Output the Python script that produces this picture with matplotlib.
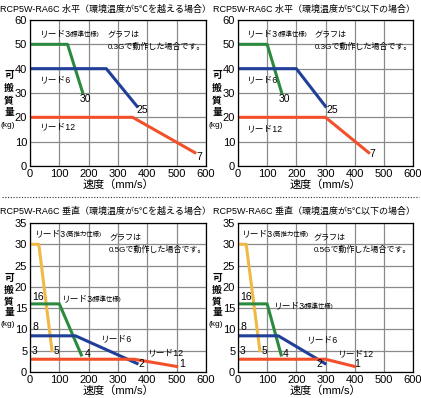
import matplotlib.pyplot as plt
from matplotlib.lines import Line2D
from matplotlib import font_manager

# prefer a narrow latin face if there is one
latin = 'Liberation Sans'
try:
    font_manager.findfont('Liberation Sans Narrow', fallback_to_default=False)
    latin = 'Liberation Sans Narrow'
except Exception:
    pass
plt.rcParams['font.family'] = [latin, 'Noto Sans CJK JP', 'DejaVu Sans']

# horizontal, above 5C
hh_l3_x = [0, 128, 180]
hh_l3_y = [50, 50, 30]
hh_l6_x = [0, 260, 365]
hh_l6_y = [40, 40, 24.5]
hh_l12_x = [0, 350, 562]
hh_l12_y = [20, 20, 5.5]
# horizontal, 5C or below
hc_l3_x = [0, 100, 150]
hc_l3_y = [50, 50, 30]
hc_l6_x = [0, 200, 300]
hc_l6_y = [40, 40, 24.5]
hc_l12_x = [0, 300, 448]
hc_l12_y = [20, 20, 5.5]
# vertical, above 5C
vh_l3h_x = [0, 30, 75]
vh_l3h_y = [30, 30, 5]
vh_l3_x = [0, 100, 175]
vh_l3_y = [16, 16, 4]
vh_l6_x = [0, 155, 365]
vh_l6_y = [8.5, 8.5, 2]
vh_l12_x = [0, 355, 500]
vh_l12_y = [3, 3, 1.3]
# vertical, 5C or below
vc_l3h_x = [0, 28, 75]
vc_l3h_y = [30, 30, 5]
vc_l3_x = [0, 100, 148]
vc_l3_y = [16, 16, 4]
vc_l6_x = [0, 138, 298]
vc_l6_y = [8.5, 8.5, 2]
vc_l12_x = [0, 300, 400]
vc_l12_y = [3, 3, 1.3]

titles = ["RCP5W-RA6C 水平（環境温度が5℃を越える場合）",
          "RCP5W-RA6C 水平（環境温度が5℃以下の場合）",
          "RCP5W-RA6C 垂直（環境温度が5℃を越える場合）",
          "RCP5W-RA6C 垂直（環境温度が5℃以下の場合）"]

GREEN = "#2b8a3e"
BLUE = "#1f3f98"
RED = "#f2502a"
YELLOW = "#f0b845"

fig = plt.figure(figsize=(4.21, 3.98), dpi=100)
W, H = 421, 398

def make_ax(left, top, w, h):
    return fig.add_axes([left / W, 1 - (top + h) / H, w / W, h / H])

axes = [make_ax(30, 20, 176, 146), make_ax(238, 20, 175, 146),
        make_ax(30, 223, 176, 149), make_ax(238, 223, 175, 149)]

title_x = [106, 314, 106, 314]
title_y = [9, 9, 211, 211]
ylab_x = [9, 217, 9, 217]
ylab_top = [75, 75, 278, 278]
ylab_step = [12.5, 12.5, 11.5, 11.5]

for i, ax in enumerate(axes):
    ax.set_xlim(0, 600)
    ax.set_xticks(range(0, 601, 100))
    if i < 2:
        ax.set_ylim(0, 60)
        ax.set_yticks(range(0, 61, 10))
    else:
        ax.set_ylim(0, 35)
        ax.set_yticks(range(0, 36, 5))
    ax.grid(True, color="#8a8a8a", lw=0.9)
    ax.set_axisbelow(True)
    ax.tick_params(length=0, pad=2, labelsize=8)
    for s in ax.spines.values():
        s.set_linewidth(0.9)
    fig.text(title_x[i] / W, 1 - title_y[i] / H, titles[i], fontsize=6.5,
             ha='center', va='center')
    ax.set_xlabel("速度（mm/s）", fontsize=8, labelpad=0)
    # stacked y label
    for k, ch in enumerate("可搬質量"):
        fig.text(ylab_x[i] / W, 1 - (ylab_top[i] + ylab_step[i] * k) / H, ch, fontsize=7,
                 fontweight='bold', ha='center', va='center')
    fig.text((ylab_x[i] - 1) / W, 1 - (ylab_top[i] + ylab_step[i] * 4 + 1) / H, "(kg)",
             fontsize=6, ha='center', va='center')

lw = 2.2

def lead_label(ax, x, y, main, sub=None):
    t = ax.text(x, y, main, fontsize=6.3, va='center', ha='left')
    if sub:
        ax.annotate(sub, xy=(1, 0.5), xycoords=t, fontsize=4.6, va='center', ha='left')

def num(ax, x, y, s):
    ax.text(x, y, s, fontsize=7.5, va='center', ha='left')

note_h = "グラフは\n0.3Gで動作した場合です。"
note_v = "グラフは\n0.5Gで動作した場合です。"
note_fs = 5.8

# top-left
ax = axes[0]
ax.plot(hh_l3_x, hh_l3_y, color=GREEN, lw=lw)
ax.plot(hh_l6_x, hh_l6_y, color=BLUE, lw=lw)
ax.plot(hh_l12_x, hh_l12_y, color=RED, lw=lw)
lead_label(ax, 30, 54.5, "リード3", "(標準仕様)")
lead_label(ax, 30, 35.3, "リード6")
lead_label(ax, 30, 16, "リード12")
num(ax, 168, 27.5, "30")
num(ax, 362, 23, "25")
num(ax, 568, 3.5, "7")
ax.text(266, 51.2, note_h, fontsize=note_fs, va='center', linespacing=1.7)

# top-right
ax = axes[1]
ax.plot(hc_l3_x, hc_l3_y, color=GREEN, lw=lw)
ax.plot(hc_l6_x, hc_l6_y, color=BLUE, lw=lw)
ax.plot(hc_l12_x, hc_l12_y, color=RED, lw=lw)
lead_label(ax, 28, 54.5, "リード3", "(標準仕様)")
lead_label(ax, 28, 35.3, "リード6")
lead_label(ax, 28, 15.5, "リード12")
num(ax, 138, 27.5, "30")
num(ax, 302, 23, "25")
num(ax, 452, 5, "7")
ax.text(262, 51.2, note_h, fontsize=note_fs, va='center', linespacing=1.7)

# bottom-left
ax = axes[2]
ax.plot(vh_l3h_x, vh_l3h_y, color=YELLOW, lw=lw)
ax.plot(vh_l3_x, vh_l3_y, color=GREEN, lw=lw)
ax.plot(vh_l6_x, vh_l6_y, color=BLUE, lw=lw)
ax.plot(vh_l12_x, vh_l12_y, color=RED, lw=lw)
lead_label(ax, 15, 32.4, "リード3", "(高推力仕様)")
lead_label(ax, 105, 17.3, "リード3", "(標準仕様)")
lead_label(ax, 238, 7.8, "リード6")
lead_label(ax, 398, 4.4, "リード12")
num(ax, 7, 17.5, "16")
num(ax, 9, 10.6, "8")
num(ax, 7, 4.9, "3")
num(ax, 82, 4.9, "5")
num(ax, 185, 4.3, "4")
num(ax, 370, 1.8, "2")
num(ax, 510, 1.8, "1")
ax.text(270, 30, note_v, fontsize=note_fs, va='center', linespacing=1.7)

# bottom-right
ax = axes[3]
ax.plot(vc_l3h_x, vc_l3h_y, color=YELLOW, lw=lw)
ax.plot(vc_l3_x, vc_l3_y, color=GREEN, lw=lw)
ax.plot(vc_l6_x, vc_l6_y, color=BLUE, lw=lw)
ax.plot(vc_l12_x, vc_l12_y, color=RED, lw=lw)
lead_label(ax, 12, 32.4, "リード3", "(高推力仕様)")
lead_label(ax, 120, 15.5, "リード3", "(標準仕様)")
lead_label(ax, 232, 7.6, "リード6")
lead_label(ax, 338, 4.3, "リード12")
num(ax, 6, 17.5, "16")
num(ax, 8, 10.6, "8")
num(ax, 6, 4.9, "3")
num(ax, 82, 4.9, "5")
num(ax, 152, 4.2, "4")
num(ax, 270, 1.8, "2")
num(ax, 400, 1.8, "1")
ax.text(258, 30, note_v, fontsize=note_fs, va='center', linespacing=1.7)

# dotted separator between rows
fig.add_artist(Line2D([0.005, 0.995], [1 - 197 / H, 1 - 197 / H], transform=fig.transFigure,
                      color="#333333", lw=0.8, ls=(0, (1, 1.5))))

fig.savefig("out.png", dpi=100)
